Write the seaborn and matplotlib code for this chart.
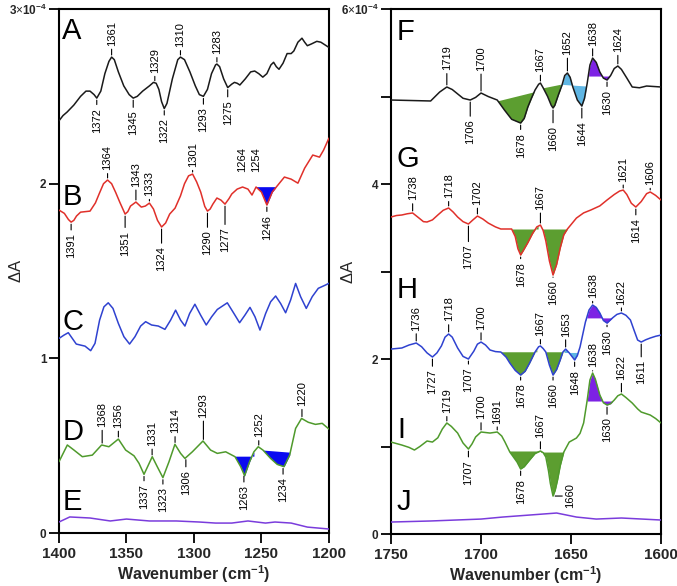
import matplotlib
matplotlib.use("Agg")
import matplotlib.pyplot as plt
import numpy as np
import seaborn as sns

# ---- traces, left panel (1400-1200 cm-1), dA in 1e-4 ----
A_wn = [1400, 1397, 1394, 1389, 1384, 1380, 1377, 1374, 1372, 1369, 1366, 1363, 1361, 1359, 1356, 1352,
        1348, 1345, 1342, 1338, 1333, 1330, 1328, 1326, 1324, 1322, 1320, 1316, 1312, 1310, 1307, 1303,
        1299, 1296, 1293, 1290, 1287, 1284, 1283, 1281, 1278, 1275, 1272, 1270, 1268, 1266, 1262, 1258,
        1255, 1252, 1249, 1246, 1243, 1241, 1239, 1237, 1234, 1231, 1228, 1226, 1223, 1220, 1218, 1216,
        1213, 1209, 1206, 1203, 1200]
A_dA = [2.36, 2.39, 2.41, 2.45, 2.50, 2.53, 2.53, 2.51, 2.49, 2.53, 2.63, 2.70, 2.725, 2.71, 2.64, 2.56,
        2.51, 2.49, 2.50, 2.53, 2.56, 2.58, 2.575, 2.54, 2.47, 2.43, 2.46, 2.60, 2.71, 2.725, 2.71, 2.64,
        2.56, 2.51, 2.50, 2.54, 2.63, 2.68, 2.685, 2.67, 2.60, 2.55, 2.57, 2.58, 2.575, 2.565, 2.60, 2.64,
        2.645, 2.63, 2.61, 2.63, 2.68, 2.695, 2.67, 2.655, 2.69, 2.745, 2.745, 2.76, 2.81, 2.833, 2.81, 2.79,
        2.80, 2.815, 2.81, 2.795, 2.78]

B_wn = [1400, 1396, 1393, 1391, 1389, 1387, 1384, 1377, 1373, 1370, 1367, 1364, 1361, 1358, 1355, 1351,
        1349, 1347, 1343, 1339, 1336, 1333, 1330, 1327, 1324, 1321, 1318, 1314, 1310, 1307, 1304, 1301,
        1298, 1295, 1292, 1290, 1288, 1286, 1283, 1280, 1277, 1274, 1272, 1268, 1264, 1260, 1257, 1254,
        1250, 1246, 1242, 1239, 1233, 1228, 1223, 1218, 1212, 1207, 1204, 1200]
B_dA = [1.849, 1.830, 1.795, 1.780, 1.790, 1.815, 1.837, 1.843, 1.890, 1.946, 2.000, 2.021, 2.000, 1.950,
        1.895, 1.826, 1.840, 1.872, 1.895, 1.866, 1.872, 1.889, 1.855, 1.790, 1.752, 1.775, 1.826, 1.860,
        1.930, 2.000, 2.045, 2.055, 2.010, 1.952, 1.870, 1.843, 1.855, 1.883, 1.918, 1.906, 1.883, 1.915,
        1.941, 1.969, 1.981, 1.969, 1.935, 1.981, 1.952, 1.878, 1.952, 1.981, 2.038, 2.026, 2.003, 2.089,
        2.164, 2.152, 2.192, 2.261]

C_wn = [1400, 1396.3, 1393.1, 1390.1, 1387.2, 1384, 1380.7, 1376.5, 1373.3, 1369.9, 1366.7, 1363.5, 1360,
        1356, 1351.9, 1347.7, 1343.7, 1339.5, 1335.8, 1331.4, 1326.4, 1321.5, 1317.3, 1313.6, 1309.9,
        1306.7, 1303.2, 1299.3, 1295.1, 1290.9, 1286.9, 1282.7, 1275.3, 1270.4, 1266.2, 1262.2, 1258.5,
        1254.8, 1251.1, 1246.9, 1243.2, 1239.5, 1235.8, 1232.1, 1228.4, 1224.7, 1221, 1216.8, 1212.4,
        1207.9, 1202.5, 1200]
C_dA = [1.114, 1.133, 1.147, 1.114, 1.082, 1.076, 1.070, 1.044, 1.086, 1.219, 1.295, 1.318, 1.286, 1.200,
        1.124, 1.082, 1.124, 1.185, 1.210, 1.191, 1.185, 1.166, 1.219, 1.276, 1.219, 1.185, 1.257, 1.310,
        1.248, 1.191, 1.238, 1.280, 1.318, 1.257, 1.204, 1.248, 1.292, 1.238, 1.162, 1.257, 1.324, 1.357,
        1.314, 1.261, 1.334, 1.429, 1.353, 1.286, 1.353, 1.401, 1.420, 1.430]

D_wn = [1400, 1393.8, 1388.9, 1382.7, 1375.3, 1368.4, 1363, 1356, 1350.6, 1344.4, 1340.7, 1337, 1333.8,
        1330.9, 1327.2, 1323, 1318.5, 1314.1, 1309.9, 1306.7, 1301.2, 1293.3, 1287.7, 1282.7, 1276.5,
        1269.6, 1265.4, 1262.5, 1258.8, 1255.6, 1252.4, 1248.9, 1243.2, 1238.3, 1233.3, 1229.1, 1224.7,
        1220.3, 1215.3, 1210, 1205, 1200]
D_dA = [0.408, 0.504, 0.475, 0.437, 0.446, 0.504, 0.494, 0.538, 0.475, 0.442, 0.399, 0.336, 0.389, 0.437,
        0.380, 0.317, 0.408, 0.508, 0.456, 0.427, 0.465, 0.527, 0.475, 0.456, 0.465, 0.437, 0.380, 0.328,
        0.408, 0.465, 0.494, 0.475, 0.427, 0.393, 0.380, 0.446, 0.599, 0.656, 0.634, 0.622, 0.628, 0.595]

E_wn = [1400, 1392, 1377, 1362, 1350, 1333, 1313, 1296, 1284, 1272, 1260, 1247, 1240, 1228, 1216, 1200]
E_dA = [0.063, 0.092, 0.086, 0.069, 0.080, 0.069, 0.069, 0.063, 0.057, 0.057, 0.069, 0.057, 0.063, 0.057,
        0.034, 0.023]

# ---- traces, right panel (1750-1600 cm-1) ----
F_wn = [1750, 1728, 1723, 1719, 1716, 1710, 1706, 1703, 1700, 1696, 1691, 1687, 1683, 1678, 1676, 1674,
        1672, 1670, 1668, 1667, 1665.5, 1663, 1661, 1660, 1659, 1657, 1655, 1653.5, 1652, 1650.5, 1649,
        1646.5, 1644, 1642.5, 1641, 1639.5, 1638, 1636, 1634, 1632, 1630, 1628, 1626, 1624, 1622, 1619,
        1616, 1612, 1608, 1600]
F_dA = [4.960, 4.949, 5.051, 5.109, 5.08, 4.98, 4.960, 4.99, 5.040, 5.00, 4.960, 4.846, 4.74, 4.697, 4.75,
        4.880, 4.98, 5.074, 5.14, 5.154, 5.10, 5.00, 4.90, 4.869, 4.90, 5.02, 5.131, 5.24, 5.269, 5.22,
        5.109, 4.96, 4.891, 4.98, 5.154, 5.36, 5.440, 5.39, 5.280, 5.21, 5.189, 5.24, 5.32, 5.349, 5.31,
        5.211, 5.109, 5.10, 5.120, 5.109]

G_wn = [1750, 1747, 1744, 1741, 1738, 1735, 1732, 1730, 1727, 1724, 1721, 1718, 1715.5, 1713, 1710, 1707,
        1704.5, 1702, 1699, 1696, 1692, 1689, 1683, 1681, 1679.5, 1678, 1676.5, 1674, 1671.5, 1669, 1667,
        1665.5, 1664, 1662, 1660, 1658, 1656, 1654, 1652, 1647, 1643, 1639, 1634, 1630, 1626, 1623, 1621,
        1619, 1616.5, 1614, 1611, 1608, 1606, 1603, 1600]
G_dA = [3.623, 3.64, 3.646, 3.66, 3.669, 3.62, 3.57, 3.566, 3.59, 3.646, 3.70, 3.726, 3.68, 3.623, 3.57,
        3.543, 3.59, 3.634, 3.60, 3.554, 3.51, 3.486, 3.486, 3.40, 3.26, 3.189, 3.24, 3.33, 3.43, 3.51, 3.531,
        3.47, 3.35, 3.12, 2.960, 3.08, 3.269, 3.42, 3.486, 3.611, 3.67, 3.703, 3.75, 3.817, 3.88, 3.92, 3.931,
        3.88, 3.78, 3.737, 3.80, 3.89, 3.909, 3.87, 3.817]

H_wn = [1750, 1744, 1740, 1736, 1733, 1730, 1727, 1724.5, 1722, 1720, 1718, 1716, 1713, 1710, 1707, 1704,
        1702, 1700, 1697.5, 1695, 1692, 1689, 1686, 1684, 1681, 1678, 1675.5, 1673, 1670, 1668, 1667, 1665.5,
        1664, 1662, 1660, 1658, 1656, 1654.5, 1653, 1651, 1648, 1646.5, 1645, 1643.5, 1642, 1640, 1638,
        1636, 1634, 1632, 1630, 1628.5, 1627, 1624.5, 1622, 1619.5, 1617, 1615, 1613, 1611, 1608.5, 1606,
        1603, 1600]
H_dA = [2.114, 2.126, 2.16, 2.183, 2.14, 2.07, 2.023, 2.07, 2.15, 2.25, 2.286, 2.25, 2.126, 2.03, 2.000,
        2.09, 2.17, 2.194, 2.16, 2.103, 2.085, 2.080, 2.02, 1.954, 1.87, 1.817, 1.86, 1.954, 2.08, 2.14, 2.149,
        2.12, 2.080, 1.93, 1.817, 1.88, 1.989, 2.08, 2.114, 2.07, 1.989, 2.04, 2.137, 2.28, 2.423, 2.56, 2.617,
        2.59, 2.526, 2.44, 2.411, 2.44, 2.469, 2.51, 2.526, 2.50, 2.446, 2.33, 2.217, 2.194, 2.22, 2.240,
        2.26, 2.274]

I_wn = [1750, 1744, 1740, 1737, 1734, 1730, 1727, 1724, 1721.5, 1719, 1716.5, 1713, 1710, 1707, 1705,
        1703, 1700, 1697.5, 1695, 1693, 1691, 1688.5, 1686.7, 1684, 1680, 1678, 1676, 1673, 1670, 1667,
        1665.5, 1664, 1662.5, 1661.5, 1660, 1658.8, 1657.5, 1656, 1654, 1651, 1647, 1645, 1643, 1641,
        1639.5, 1638, 1636.5, 1634, 1632, 1630, 1628, 1626, 1624, 1622, 1619.5, 1616, 1613, 1611, 1606,
        1603, 1600]
I_dA = [1.051, 1.017, 0.99, 0.960, 1.00, 1.063, 1.051, 1.10, 1.20, 1.269, 1.23, 1.154, 1.04, 0.971, 1.03,
        1.109, 1.166, 1.16, 1.154, 1.16, 1.166, 1.12, 1.051, 0.937, 0.823, 0.743, 0.77, 0.846, 0.92, 0.949,
        0.93, 0.880, 0.72, 0.58, 0.434, 0.50, 0.617, 0.78, 0.937, 1.051, 1.097, 1.15, 1.269, 1.531, 1.76,
        1.840, 1.77, 1.589, 1.50, 1.474, 1.49, 1.531, 1.58, 1.600, 1.56, 1.497, 1.43, 1.394, 1.360, 1.32,
        1.269]

J_wn = [1750, 1728, 1700, 1688, 1673, 1658, 1647, 1636, 1622, 1600]
J_dA = [0.137, 0.149, 0.171, 0.194, 0.217, 0.240, 0.194, 0.171, 0.183, 0.160]

TRACES = {'A': (A_wn, A_dA), 'B': (B_wn, B_dA), 'C': (C_wn, C_dA), 'D': (D_wn, D_dA), 'E': (E_wn, E_dA),
          'F': (F_wn, F_dA), 'G': (G_wn, G_dA), 'H': (H_wn, H_dA), 'I': (I_wn, I_dA), 'J': (J_wn, J_dA)}

BLACK, RED, BLUE, GREEN, PURPLE = '#1a1a1a', '#e0302a', '#2f42d0', '#4f9a2c', '#7a3cdc'
TRACE_COLORS = {'A': BLACK, 'B': RED, 'C': BLUE, 'D': GREEN, 'E': PURPLE,
                'F': BLACK, 'G': RED, 'H': BLUE, 'I': GREEN, 'J': PURPLE}
FBLUE, FGREEN, FLBLUE, FPURPLE = '#0a0af0', '#5c9e30', '#5fb6e4', '#7d22e4'

# shaded bands: trace, from wn, to wn, baseline at from, baseline at to, colour
FILLS = [('B', 1254, 1239.5, 1.983, 1.983, FBLUE),
         ('D', 1269.6, 1255.6, 0.44, 0.44, FBLUE), ('D', 1248.9, 1229.1, 0.475, 0.463, FBLUE),
         ('F', 1691, 1670.4, 4.95, 5.055, FGREEN), ('F', 1665.5, 1655.9, 5.10, 5.14, FGREEN),
         ('F', 1655.9, 1641.5, 5.14, 5.12, FLBLUE), ('F', 1640.2, 1628.5, 5.234, 5.234, FPURPLE),
         ('G', 1683, 1668.3, 3.486, 3.486, FGREEN), ('G', 1666.1, 1652.2, 3.486, 3.486, FGREEN),
         ('H', 1689, 1669, 2.083, 2.083, FGREEN), ('H', 1664.5, 1653.7, 2.083, 2.083, FGREEN),
         ('H', 1653.7, 1646.3, 2.075, 2.075, FLBLUE), ('H', 1641.8, 1626.8, 2.47, 2.47, FPURPLE),
         ('I', 1684.3, 1667, 0.949, 0.949, FGREEN), ('I', 1667, 1654, 0.937, 0.937, FGREEN),
         ('I', 1641.1, 1627, 1.52, 1.52, FPURPLE)]

# peak labels: trace, wavenumber, side (+1 above / -1 below / 0 right), stem length (pt), draw stem
LABELS = [('A', 1372, -1, 7), ('A', 1361, 1, 8), ('A', 1345, -1, 9), ('A', 1329, 1, 7), ('A', 1322, -1, 7),
          ('A', 1310, 1, 7), ('A', 1293, -1, 8), ('A', 1283, 1, 7), ('A', 1275, -1, 9),
          ('B', 1391, -1, 8), ('B', 1364, 1, 7), ('B', 1351, -1, 12), ('B', 1343, 1, 11), ('B', 1333, 1, 5),
          ('B', 1324, -1, 14), ('B', 1301, 1, 5), ('B', 1290, -1, 14), ('B', 1277, -1, 17),
          ('B', 1264, 1, 11, False), ('B', 1254, 1, 11, False), ('B', 1246, -1, 7),
          ('D', 1368, 1, 13), ('D', 1356, 1, 8), ('D', 1337, -1, 7), ('D', 1331, 1, 8), ('D', 1323, -1, 7),
          ('D', 1314, 1, 8), ('D', 1306, -1, 9), ('D', 1293, 1, 17), ('D', 1263, -1, 8), ('D', 1252, 1, 7),
          ('D', 1234, -1, 8), ('D', 1220, 1, 9),
          ('F', 1719, 1, 12), ('F', 1706, -1, 14), ('F', 1700, 1, 16), ('F', 1678, -1, 7), ('F', 1667, 1, 8),
          ('F', 1660, -1, 13), ('F', 1652, 1, 13), ('F', 1644, -1, 11), ('F', 1638, 1, 9), ('F', 1630, -1, 7),
          ('F', 1624, 1, 10),
          ('G', 1738, 1, 9), ('G', 1718, 1, 7), ('G', 1702, 1, 8), ('G', 1707, -1, 15), ('G', 1678, -1, 5),
          ('G', 1667, 1, 11), ('G', 1660, -1, 4), ('G', 1621, 1, 6), ('G', 1614, -1, 8), ('G', 1606, 1, 5),
          ('H', 1736, 1, 9), ('H', 1727, -1, 9), ('H', 1718, 1, 9), ('H', 1707, -1, 6), ('H', 1700, 1, 9),
          ('H', 1678, -1, 6), ('H', 1667, 1, 7), ('H', 1660, -1, 6), ('H', 1653, 1, 9), ('H', 1648, -1, 7),
          ('H', 1638, 1, 5), ('H', 1630, -1, 5), ('H', 1622, 1, 6), ('H', 1611, -1, 13),
          ('I', 1719, 1, 7), ('I', 1707, -1, 8), ('I', 1700, 1, 9), ('I', 1691, 1, 6), ('I', 1678, -1, 7),
          ('I', 1667, 1, 9), ('I', 1660, 0, 9), ('I', 1638, 1, 4), ('I', 1630, -1, 9), ('I', 1622, 1, 10)]

# panel letters: letter, wn, dA at baseline
LETTERS = [('A', 1397.5, 2.828), ('B', 1397.5, 1.877), ('C', 1397.5, 1.162), ('D', 1397.5, 0.532),
           ('E', 1397.5, 0.132), ('F', 1746.7, 5.646), ('G', 1746.7, 4.194), ('H', 1746.7, 2.697),
           ('I', 1746.7, 1.097), ('J', 1746.7, 0.274)]

sns.set_theme(style='ticks')
plt.rcParams['font.family'] = ['Liberation Sans', 'DejaVu Sans']
plt.rcParams['mathtext.fontset'] = 'custom'
plt.rcParams['mathtext.rm'] = 'Liberation Sans'
plt.rcParams['mathtext.bf'] = 'Liberation Sans:bold'

fig = plt.figure(figsize=(6.77, 5.86), dpi=100)
axL = fig.add_axes([0.0871, 0.0904, 0.3988, 0.8942])
axR = fig.add_axes([0.5776, 0.0887, 0.3988, 0.8959])


def curve_at(key, x):
    wn, v = TRACES[key]
    return np.interp(x, np.array(wn)[::-1], np.array(v)[::-1])


def panel_of(key):
    return axL if key in 'ABCDE' else axR


for key, (wn, v) in TRACES.items():
    sns.lineplot(x=wn, y=v, ax=panel_of(key), color=TRACE_COLORS[key], lw=1.1,
                 sort=False, estimator=None, zorder=3)

for key, x0, x1, b0, b1, col in FILLS:
    wn, v = TRACES[key]
    wa = np.array(wn)[::-1]
    lo, hi = min(x0, x1), max(x0, x1)
    xs = np.concatenate([[lo], wa[(wa > lo) & (wa < hi)], [hi]])
    ys = curve_at(key, xs)
    blo, bhi = (b0, b1) if x0 == lo else (b1, b0)
    base = np.interp(xs, [lo, hi], [blo, bhi])
    panel_of(key).fill_between(xs, ys, base, color=col, lw=0, zorder=2)

for lab in LABELS:
    key, x, side, L = lab[:4]
    stem = lab[4] if len(lab) > 4 else True
    ax = panel_of(key)
    y = float(curve_at(key, x))
    if side == 0:
        off, ha, va = (L, 0), 'left', 'center'
    else:
        off, ha, va = (0, side * L), 'center', ('bottom' if side > 0 else 'top')
    arrow = dict(arrowstyle='-', lw=0.8, color='black', shrinkA=0, shrinkB=1.5) if stem else None
    ax.annotate(str(x), xy=(x, y), xytext=off, textcoords='offset points', rotation=90,
                ha=ha, va=va, fontsize=8, color='black', arrowprops=arrow, zorder=4)

for letter, x, y in LETTERS:
    panel_of(letter).text(x, y, letter, fontsize=21, ha='left', va='baseline', color='black')

axL.set_xlim(1400, 1200)
axL.set_ylim(0, 3)
axL.set_xticks([1400, 1350, 1300, 1250, 1200])
axL.set_yticks([0, 1, 2, 3])
axL.set_yticklabels(['0', '1', '2', r'3$\times$10$^{\mathbf{-4}}$'])

axR.set_xlim(1750, 1600)
axR.set_ylim(0, 6)
axR.set_xticks([1750, 1700, 1650, 1600])
axR.set_yticks([0, 1, 2, 3, 4, 5, 6])
axR.set_yticklabels(['0', '', '2', '', '4', '', r'6$\times$10$^{\mathbf{-4}}$'])

for ax in (axL, axR):
    for s in ax.spines.values():
        s.set_linewidth(1.5)
        s.set_color('black')
    ax.tick_params(axis='both', direction='out', length=7, width=1.3, color='black')
    ax.tick_params(axis='x', labelsize=11, pad=3)
    ax.tick_params(axis='y', labelsize=8.5, pad=2)
    for t in ax.get_xticklabels() + ax.get_yticklabels():
        t.set_fontweight('bold')
    ax.set_xlabel(r'Wavenumber (cm$^{\mathbf{-1}}$)', fontsize=11.5, fontweight='bold')
    ax.xaxis.set_label_coords(0.5, -0.058)
    ax.set_ylabel(r'$\Delta$A', fontsize=12)
    ax.yaxis.set_label_coords(-0.13, 0.5)

fig.savefig('out.png', dpi=100)
